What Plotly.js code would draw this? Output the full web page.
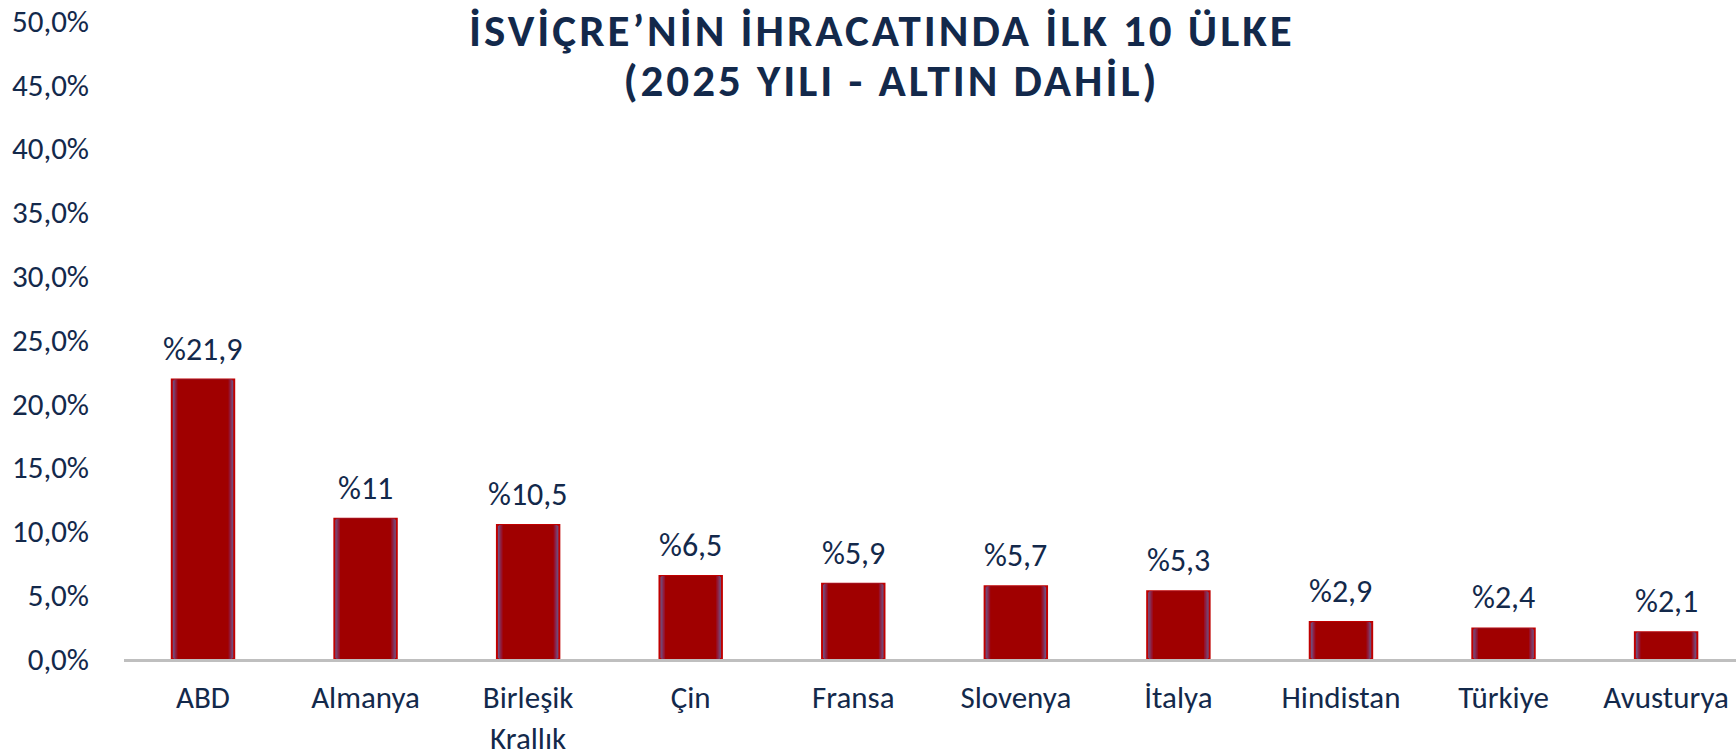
<!DOCTYPE html>
<html>
<head>
<meta charset="utf-8">
<script src="https://cdn.plot.ly/plotly-3.0.1.min.js"></script>
<style>
html,body{margin:0;padding:0;background:#fff;}
#chart{width:1736px;height:755px;}
.gtitle{letter-spacing:3px;}
g.annotation[data-index="10"] text{letter-spacing:3px;}
</style>
</head>
<body>
<div id="chart"></div>
<script>
const countries = ["ABD","Almanya","Birleşik<br>Krallık","Çin","Fransa","Slovenya","İtalya","Hindistan","Türkiye","Avusturya"];
const shares = [21.9, 11, 10.5, 6.5, 5.9, 5.7, 5.3, 2.9, 2.4, 2.1];
const shareLabels = ["%21,9","%11","%10,5","%6,5","%5,9","%5,7","%5,3","%2,9","%2,4","%2,1"];
const yTickVals = [0,5,10,15,20,25,30,35,40,45,50];
const yTickText = ["0,0%","5,0%","10,0%","15,0%","20,0%","25,0%","30,0%","35,0%","40,0%","45,0%","50,0%"];
const titleLine1 = "İSVİÇRE’NİN İHRACATINDA İLK 10 ÜLKE";
const titleLine2 = "(2025 YILI - ALTIN DAHİL)";

const FONT = "Carlito, Lato, 'Noto Sans', sans-serif";
const NAVY = "#13294B";

const xIdx = countries.map((_, i) => i);

// layered bars to imitate the soft inner glow of the original fill
const layers = [
  {w: 0.384, c: "#6B5585", line: {color: "#C00000", width: 2}},
  {w: 0.362, c: "#7C3C68", line: {width: 0}},
  {w: 0.345, c: "#8C2445", line: {width: 0}},
  {w: 0.330, c: "#98102A", line: {width: 0}},
  {w: 0.315, c: "#A00000", line: {width: 0}}
];

const traces = layers.map(L => ({
  type: "bar",
  x: xIdx,
  y: shares,
  width: L.w,
  marker: {color: L.c, line: L.line},
  hoverinfo: "skip"
}));

const annotations = shares.map((v, i) => ({
  x: i, y: v, xref: "x", yref: "y",
  text: shareLabels[i], showarrow: false,
  yanchor: "bottom", yshift: 9,
  font: {family: FONT, size: 32, color: NAVY}
}));
annotations.push({
  x: 0.476, y: 0.906, xref: "paper", yref: "paper",
  xanchor: "center", yanchor: "middle",
  text: "<b>" + titleLine2 + "</b>", showarrow: false,
  font: {family: FONT, size: 45, color: NAVY}
});

const layout = {
  width: 1736, height: 755,
  margin: {l: 124, r: 0, t: 21, b: 96},
  paper_bgcolor: "#fff", plot_bgcolor: "#fff",
  showlegend: false,
  barmode: "overlay",
  title: {
    text: "<b>" + titleLine1 + "</b>",
    font: {family: FONT, size: 45, color: NAVY},
    x: 0.508, xref: "container", xanchor: "center",
    y: 0.960, yref: "container", yanchor: "middle"
  },
  xaxis: {
    range: [-0.486, 9.43],
    tickvals: xIdx, ticktext: countries,
    showgrid: false, zeroline: false,
    showline: true, linecolor: "#BFBFBF", linewidth: 3,
    ticks: "", ticklabelstandoff: 9,
    tickfont: {family: FONT, size: 31, color: NAVY},
    fixedrange: true
  },
  yaxis: {
    range: [0, 50],
    tickvals: yTickVals, ticktext: yTickText,
    showgrid: false, zeroline: false, showline: false,
    ticks: "", ticklabelstandoff: 34,
    tickfont: {family: FONT, size: 31, color: NAVY},
    fixedrange: true
  },
  annotations: annotations
};

Plotly.newPlot("chart", traces, layout, {displayModeBar: false, staticPlot: true});
</script>
</body>
</html>
